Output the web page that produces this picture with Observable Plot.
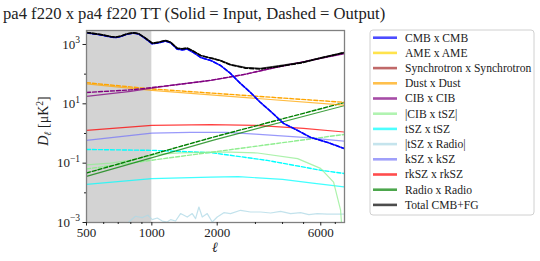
<!DOCTYPE html>
<html><head><meta charset="utf-8">
<script src="https://cdn.jsdelivr.net/npm/d3@7"></script>
<script src="https://cdn.jsdelivr.net/npm/@observablehq/plot@0.6"></script>
<style>body{margin:0;background:#fff;} #chart{position:relative;width:540px;height:261px;}</style>
</head><body><div id="chart"></div>
<script>
// ---- data ----
const titleText = "pa4 f220 x pa4 f220 TT (Solid = Input, Dashed = Output)";
const xTicks = [500, 1000, 2000, 6000];
const xMinor = [600, 700, 800, 900, 3000, 4000, 5000, 7000];
const yTicks = [1e-3, 1e-1, 1e1, 1e3];
const yMinor = [1e-2, 1, 1e2];
const shade = [500, 1000];

const ellTotal = [500,580,645,680,717,770,826,871,935,1004,1077,1156,1220,1309,1380,1456,1562,1678,1800,1930,2070,2302,2696,3156,3928,4888,6084,7717];
const totalIn  = [2535,2173,1858,1763,1901,2293,2477,2293,1630,1106,1195,1364,1195,750,716,750,581,427,373,330,289,212,168,156,196,248,365,538];
const totalOut = [2535,2173,1858,1763,1901,2293,2477,2293,1630,1106,1195,1364,1195,750,716,750,581,427,373,330,285,206,160,148,186,240,358,532];

const ellCmb = [500,580,645,680,717,770,826,871,935,1004,1077,1156,1220,1309,1380,1456,1562,1678,1868,2070,2302,2559,2846,3156,3522,4044,4690,5386,6449,7717];
const cmbIn  = [2470,2110,1800,1705,1845,2235,2420,2235,1575,1050,1140,1310,1140,695,660,695,525,365,289,196,106,48.7,24.2,11.3,5.6,2.19,1.27,0.74,0.50,0.31];
const cmbOut = [2470,2110,1800,1705,1845,2235,2420,2235,1575,1050,1140,1310,1140,695,660,695,525,365,289,196,106,48.7,24.2,11.3,5.6,2.19,1.27,0.74,0.50,0.31];

const ellDust = [500, 1000, 7717];
const dustIn  = [46.8, 28.3, 9.0];
const dustOut = [51.6, 31.7, 11.2];

const ellCib = [500, 798, 1220, 1868, 2644, 3795, 5386, 7717];
const cibIn  = [17.7, 26.2, 41.7, 61.4, 95.5, 172, 289, 486];
const cibOut = [24.2, 29.4, 41.7, 62, 97, 175, 294, 505];

const ellCibTsz = [500, 645, 790, 1048, 1356, 1868, 2302, 3069, 4693, 5986, 6873, 7404, 7523];
const cibTszIn  = [0.088, 0.100, 0.124, 0.198, 0.222, 0.237, 0.235, 0.220, 0.142, 0.0668, 0.0231, 0.0026, 0.0005];
const ellCibTszOut = [500, 7717];
const cibTszOut = [0.0638, 0.933];

const ellTsz = [500, 1000, 1868, 2500, 4000, 5500, 7717];
const tszIn  = [0.0193, 0.030, 0.034, 0.035, 0.0285, 0.0211, 0.0157];
const ellTszOut = [500, 1000, 1868, 3400, 6000, 7717];
const tszOut = [0.29, 0.27, 0.227, 0.124, 0.0577, 0.0447];

const ellTszRadio = [783,841,903,958,1004,1059,1117,1177,1220,1286,1356,1456,1535,1590,1647,1707,1800,1898,2001,2146,2304,2563,2850,3170,3524,3918,4357,4843,5290,5782,6430,7669];
const tszRadioIn  = [0.00104,0.00162,0.00146,0.00175,0.00125,0.00142,0.00112,0.00104,0.00125,0.00112,0.0020,0.00153,0.0020,0.00135,0.00333,0.00153,0.0020,0.00104,0.00153,0.00215,0.0020,0.00258,0.00226,0.00226,0.00209,0.00238,0.0020,0.00215,0.00185,0.0020,0.00191,0.00191];

const ellKsz = [500, 1000, 1500, 2200, 3000, 5000, 7717];
const kszIn  = [0.586, 1.03, 1.09, 1.09, 0.95, 0.74, 0.555];

const ellRksz = [500, 1000, 1868, 3000, 5000, 7717];
const rkszIn  = [1.27, 1.87, 1.98, 1.87, 1.49, 1.12];

const ellRadio = [500, 1923, 7717];
const radioIn  = [0.036, 0.60, 8.7];
const radioOut = [0.0465, 0.757, 11.1];

const legendNames  = ["CMB x CMB","AME x AME","Synchrotron x Synchrotron","Dust x Dust","CIB x CIB","|CIB x tSZ|","tSZ x tSZ","|tSZ x Radio|","kSZ x kSZ","rkSZ x rkSZ","Radio x Radio","Total CMB+FG"];
const legendColors = ["#0000ff","#ffd700","#a52a2a","#ffa500","#800080","#90ee90","#00ffff","#add8e6","#7777f8","#ff0000","#008000","#000000"];

// ---- build ----
const pts = (ell, v) => ell.map((l, i) => ({l, v: v[i]}));
const solid = (ell, v, c, w = 1.2) => Plot.line(pts(ell, v), {x: "l", y: "v", stroke: c, strokeOpacity: 0.75, strokeWidth: w, clip: true});
const dashed = (ell, v, c, w = 1.4) => Plot.line(pts(ell, v), {x: "l", y: "v", stroke: c, strokeWidth: w, strokeDasharray: "4,2", clip: true});

const plot = Plot.plot({
  width: 540, height: 261,
  marginLeft: 86, marginRight: 196, marginTop: 30, marginBottom: 39,
  style: {fontFamily: "Liberation Serif", fontSize: "13px", color: "#222", background: "white"},
  x: {type: "log", domain: [500, 7717]},
  y: {type: "log", domain: [1e-3, 2960]},
  marks: [
    Plot.rect([{x1: shade[0], x2: shade[1]}], {x1: "x1", x2: "x2", fill: "#d3d3d3"}),
    solid(ellTszRadio, tszRadioIn, "#add8e6"),
    solid(ellTsz, tszIn, "#00ffff"),
    dashed(ellTszOut, tszOut, "#00ffff"),
    solid(ellCibTsz, cibTszIn, "#90ee90"),
    dashed(ellCibTszOut, cibTszOut, "#90ee90"),
    solid(ellKsz, kszIn, "#7777f8"),
    solid(ellRksz, rkszIn, "#ff0000"),
    solid(ellRadio, radioIn, "#008000"),
    dashed(ellRadio, radioOut, "#008000"),
    solid(ellDust, dustIn, "#ffa500"),
    dashed(ellDust, dustOut, "#ffa500"),
    solid(ellCib, cibIn, "#800080"),
    dashed(ellCib, cibOut, "#800080"),
    solid(ellCmb, cmbIn, "#0000ff", 1.4),
    dashed(ellCmb, cmbOut, "#0000ff", 1.6),
    solid(ellTotal, totalIn, "#000000", 1.4),
    dashed(ellTotal, totalOut, "#000000", 1.6),
    Plot.frame({stroke: "#808080", strokeWidth: 1.3}),
    Plot.axisX({ticks: xTicks, tickFormat: d => String(d), tickSize: 3.5, tickPadding: 2, label: null, fontSize: 13}),
    Plot.axisX({ticks: xMinor, tickFormat: () => "", tickSize: 2, label: null}),
    Plot.axisY({ticks: yTicks, tickFormat: d => String(Math.round(Math.log10(d))), tickSize: 3.5, tickPadding: 3, label: null, fontSize: 13}),
    Plot.axisY({ticks: yMinor, tickFormat: () => "", tickSize: 2, label: null})
  ]
});
document.getElementById("chart").appendChild(plot);

const svg = d3.select(plot);
// superscript y tick labels
svg.selectAll('g[aria-label="y-axis tick label"] text').each(function() {
  const t = d3.select(this); const e = t.text();
  if (!e) return;
  t.text("10"); t.append("tspan").attr("dy", "-0.55em").attr("font-size", "9.5px").text(e.replace("-", "\u2212"));
});
// title
svg.append("text").attr("x", 3).attr("y", 18.5).attr("text-anchor", "start").attr("font-size", "16.6px").attr("fill", "#222").text(titleText);
// y label
const yl = svg.append("text").attr("transform", "translate(48,121) rotate(-90)").attr("text-anchor", "middle").attr("font-size", "14px").attr("fill", "#222");
yl.append("tspan").attr("font-style", "italic").text("D");
yl.append("tspan").attr("font-style", "italic").attr("font-size", "10px").attr("dy", "3").text("\u2113");
yl.append("tspan").attr("dy", "-3").text(" [\u03bcK");
yl.append("tspan").attr("font-size", "9.5px").attr("dy", "-5").text("2");
yl.append("tspan").attr("dy", "5").text("]");
// x label
svg.append("text").attr("x", 215).attr("y", 252).attr("text-anchor", "middle").attr("font-size", "14px").attr("font-style", "italic").attr("fill", "#222").text("\u2113");
// legend
const lg = svg.append("g").attr("text-anchor", "start");
lg.append("rect").attr("x", 370).attr("y", 30).attr("width", 164).attr("height", 185).attr("rx", 3).attr("fill", "white").attr("stroke", "#d0d0d0").attr("stroke-width", 1);
legendNames.forEach((n, i) => {
  const cy = 37.7 + i * 15.2;
  lg.append("line").attr("x1", 373).attr("x2", 397).attr("y1", cy).attr("y2", cy).attr("stroke", legendColors[i]).attr("stroke-opacity", 0.7).attr("stroke-width", 2.6);
  lg.append("text").attr("x", 405).attr("y", cy + 3.9).attr("text-anchor", "start").attr("font-size", "11.6px").attr("fill", "#222").text(n);
});
</script></body></html>
